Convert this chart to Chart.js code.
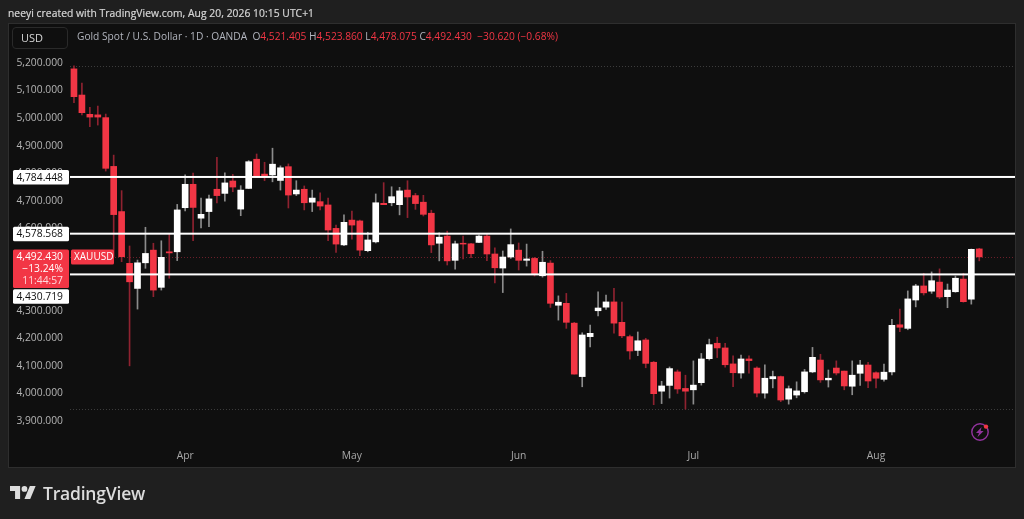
<!DOCTYPE html>
<html><head><meta charset="utf-8">
<script src="https://cdn.jsdelivr.net/npm/chart.js@4/dist/chart.umd.min.js"></script>
<style>
html,body{margin:0;padding:0;background:#1f1f1f;width:1024px;height:519px;overflow:hidden}
#panel{position:absolute;left:8px;top:23px;width:1006px;height:443px;background:#0f0f0f;border:1px solid #2e2e2e}
#c{position:absolute;left:0;top:0}
.t{position:absolute;white-space:nowrap;font-family:"Open Sans",sans-serif}
#hdr{left:8px;top:6px;font-size:10.3px;line-height:14px;color:#d6d6d6;letter-spacing:.05px;-webkit-text-stroke:.2px #d6d6d6}
#usd{left:12px;top:27px;width:54px;height:20px;border:1px solid #2a2a2a;border-radius:4px;font:11px/20px "Open Sans";color:#d6d6d6;text-indent:8px}
#leg{left:77px;top:29px;font-size:10.2px;line-height:14px;color:#b2b5be}
#leg b{font-weight:normal;color:#f23645}
#brand{left:43px;top:481px;font:600 17.5px/24px "Open Sans";color:#dcdcdc;letter-spacing:-.2px}
svg{position:absolute}
</style></head><body>
<div id="panel"></div>
<canvas id="c" width="1024" height="519"></canvas>
<div class="t" id="hdr">neeyi created with TradingView.com, Aug 20, 2026 10:15 UTC+1</div>
<div class="t" id="usd">USD</div>
<div class="t" id="leg">Gold Spot / U.S. Dollar · 1D · OANDA&nbsp; O<b>4,521.405</b> H<b>4,523.860</b> L<b>4,478.075</b> C<b>4,492.430</b> &nbsp;<b>−30.620 (−0.68%)</b></div>
<svg style="left:10px;top:486px" width="26" height="13" viewBox="0 4 36 18"><path fill="#dcdcdc" d="M14 22H7V11H0V4h14v18zM28 22h-8l7.5-18h8L28 22z"/><circle fill="#dcdcdc" cx="20" cy="8" r="4"/></svg>
<div class="t" id="brand">TradingView</div>
<svg style="left:969px;top:421px" width="22" height="22" viewBox="0 0 22 22"><circle cx="11" cy="11" r="8.2" fill="none" stroke="#93339f" stroke-width="1.4"/><path fill="#93339f" d="M12.6 6 7 12h3l-1.6 4.2L14.6 10h-3z"/><circle cx="17" cy="5.6" r="2.2" fill="#f23645"/></svg>
<script>
const opens=[5175,5080,5010,5008,4998,4821,4657,4469,4378,4471,4517,4382,4511,4511,4671,4756,4633,4657,4738,4723,4768,4666,4741,4847,4793,4790,4770,4820,4721,4738,4691,4693,4681,4596,4536,4626,4623,4515,4547,4687,4689,4682,4735,4715,4691,4651,4542,4568,4480,4542,4540,4545,4568,4503,4452,4492,4517,4480,4487,4424,4470,4317,4324,4252,4058,4203,4297,4310,4329,4255,4203,4153,4191,4110,4005,4026,4075,4015,4010,4036,4123,4179,4162,4104,4071,4122,4089,3998,4050,4058,3976,3991,4003,4075,4118,4046,4089,4078,4023,4070,4100,4072,4048,4075,4246,4233,4336,4387,4368,4401,4348,4366,4412,4339,4521.405];
const highs=[5186,5123,5035,5040,5011,4862,4733,4532,4481,4600,4542,4551,4578,4683,4790,4797,4706,4717,4854,4798,4792,4751,4842,4866,4836,4887,4823,4830,4769,4750,4735,4725,4706,4608,4645,4659,4626,4582,4721,4762,4747,4745,4769,4723,4716,4662,4580,4586,4550,4568,4542,4573,4578,4525,4514,4594,4543,4539,4491,4513,4479,4351,4360,4255,4217,4245,4366,4354,4378,4328,4209,4220,4197,4113,4041,4093,4082,4063,4115,4142,4194,4201,4179,4133,4136,4133,4093,4101,4078,4060,4024,4039,4084,4164,4139,4082,4115,4078,4115,4117,4110,4075,4103,4266,4303,4369,4393,4433,4438,4449,4394,4423,4433,4521,4523.86];
const lows=[5052,5008,4965,4971,4804,4492,4475,4097,4303,4451,4348,4372,4415,4479,4659,4551,4598,4602,4688,4695,4729,4642,4740,4784,4769,4765,4735,4670,4715,4663,4657,4663,4551,4509,4533,4557,4497,4511,4543,4682,4678,4645,4635,4665,4641,4508,4478,4463,4448,4485,4490,4544,4479,4398,4363,4487,4445,4459,4423,4419,4309,4263,4233,4067,4021,4166,4278,4302,4216,4199,4121,4134,4090,3956,3960,3980,3997,3940,3958,4027,4118,4127,4092,4021,4052,4070,3984,3980,4017,3967,3958,3981,3998,4072,4037,4020,4064,4010,3992,4026,4018,4017,4041,4064,4221,4228,4311,4354,4360,4341,4308,4364,4328,4321,4478.075];
const closes=[5074,5016,5000,5000,4814,4646,4493,4402,4471,4505,4372,4491,4507,4663,4756,4672,4647,4703,4715,4761,4746,4735,4838,4786,4786,4829,4816,4717,4735,4689,4706,4677,4590,4539,4618,4608,4517,4554,4689,4682,4711,4732,4710,4686,4647,4536,4564,4478,4540,4539,4504,4568,4503,4453,4492,4537,4480,4485,4429,4473,4324,4328,4255,4067,4209,4215,4307,4329,4252,4206,4151,4188,4106,3996,4024,4087,4013,4005,4027,4122,4174,4162,4101,4072,4122,4116,3998,4052,4058,3973,4014,4006,4075,4128,4046,4052,4071,4024,4063,4100,4042,4052,4074,4244,4237,4340,4387,4362,4406,4347,4372,4415,4330,4520,4492.43];
const priceTicks=[5200,5100,5000,4900,4800,4700,4600,4500,4400,4300,4200,4100,4000,3900];
const monthLabels=['Apr','May','Jun','Jul','Aug'];
const monthIndex=[14,35,56,78,101];
const levels=[4784.448,4578.568,4430.719];
const extremes=[5186,3940];
const lastPrice=4492.43;
const categories=[...opens.map((_,i)=>i),'r1','r2','r3','r4'];

const RED='#f23645',WHITE='#ffffff',RWICK='#8f2230',WWICK='#8c8c8c';
const up=i=>closes[i]>=opens[i];
const fmt=v=>v.toLocaleString('en-US',{minimumFractionDigits:3,maximumFractionDigits:3});

const overlay={id:'overlay',
 beforeDatasetsDraw(ch){
  const c=ch.ctx,y=ch.scales.y,a=ch.chartArea;
  c.save();c.lineWidth=1;c.setLineDash([1,2]);
  c.strokeStyle='#3c3c3c';
  extremes.forEach(v=>{const p=Math.round(y.getPixelForValue(v))+.5;c.beginPath();c.moveTo(a.left,p);c.lineTo(a.right,p);c.stroke();});
  c.strokeStyle='#6b1f2a';
  const p=Math.round(y.getPixelForValue(lastPrice))+.5;c.beginPath();c.moveTo(a.left,p);c.lineTo(a.right,p);c.stroke();
  c.restore();
 },
 afterDraw(ch){
  const c=ch.ctx,y=ch.scales.y,a=ch.chartArea;
  c.save();
  c.fillStyle='#ffffff';
  levels.forEach(v=>{const p=y.getPixelForValue(v);c.fillRect(a.left,p-.5,a.right-a.left,2);});
  c.textBaseline='middle';
  const font='10.3px "Open Sans"';
  const box=(x,top,w,h,col)=>{c.fillStyle=col;c.beginPath();c.roundRect(x,top,w,h,1.5);c.fill();};
  const lp=y.getPixelForValue(lastPrice);
  box(13,lp-7.5,56,38.5,RED);
  box(71,lp-7.5,43,15,RED);
  c.font=font;c.textAlign='right';
  c.fillStyle='#fff';c.fillText(fmt(lastPrice),63,lp+.5);
  c.fillText('−13.24%',63,lp+12.5);
  c.fillStyle='#ffd9dd';c.fillText('11:44:57',63,lp+24.5);
  c.textAlign='left';c.fillStyle='#fff';c.font='500 10px "Open Sans"';c.fillText('XAUUSD',74,lp+.5);
  c.font=font;c.textAlign='right';
  levels.forEach((v,i)=>{const p=y.getPixelForValue(v);
    const top=i===2?p+15.3:p-6.5;
    box(13,top,56,14.6,'#ffffff');
    c.fillStyle='#0f0f0f';c.fillText(fmt(v),63,top+7.8);});
  c.restore();
 }};

new Chart(document.getElementById('c'),{
 type:'bar',
 data:{labels:categories,datasets:[
  {label:'wick',data:highs.map((h,i)=>[lows[i],h]),barThickness:1,order:2,grouped:false,
   backgroundColor:highs.map((_,i)=>up(i)?WWICK:RWICK)},
  {label:'body',data:opens.map((o,i)=>[o,closes[i]]),barThickness:6,order:1,grouped:false,
   backgroundColor:opens.map((_,i)=>up(i)?WHITE:RED)}
 ]},
 options:{
  responsive:false,animation:false,devicePixelRatio:1,
  layout:{padding:{top:23,right:9,bottom:52,left:0}},
  plugins:{legend:{display:false},tooltip:{enabled:false}},
  scales:{
   x:{stacked:false,grid:{display:false,drawTicks:false},border:{display:false},
      afterFit(s){s.height=20;},
      afterBuildTicks(s){s.ticks=monthIndex.map(v=>({value:v}));},
      ticks:{autoSkip:false,maxRotation:0,padding:3,color:'#a8a8a8',font:{family:'"Open Sans"',size:10.3},
        callback:(v)=>monthLabels[monthIndex.indexOf(v)]}},
   y:{min:3802.4,max:5341.5,grid:{display:false,drawTicks:false},border:{display:false},
      afterFit(s){s.width=70;},
      afterBuildTicks(s){s.ticks=priceTicks.map(v=>({value:v}));},
      ticks:{padding:7,labelOffset:1,color:'#b4b4b4',font:{family:'"Open Sans"',size:10.3},callback:v=>fmt(v)}}
  }
 },
 plugins:[overlay]
});
</script>
</body></html>
